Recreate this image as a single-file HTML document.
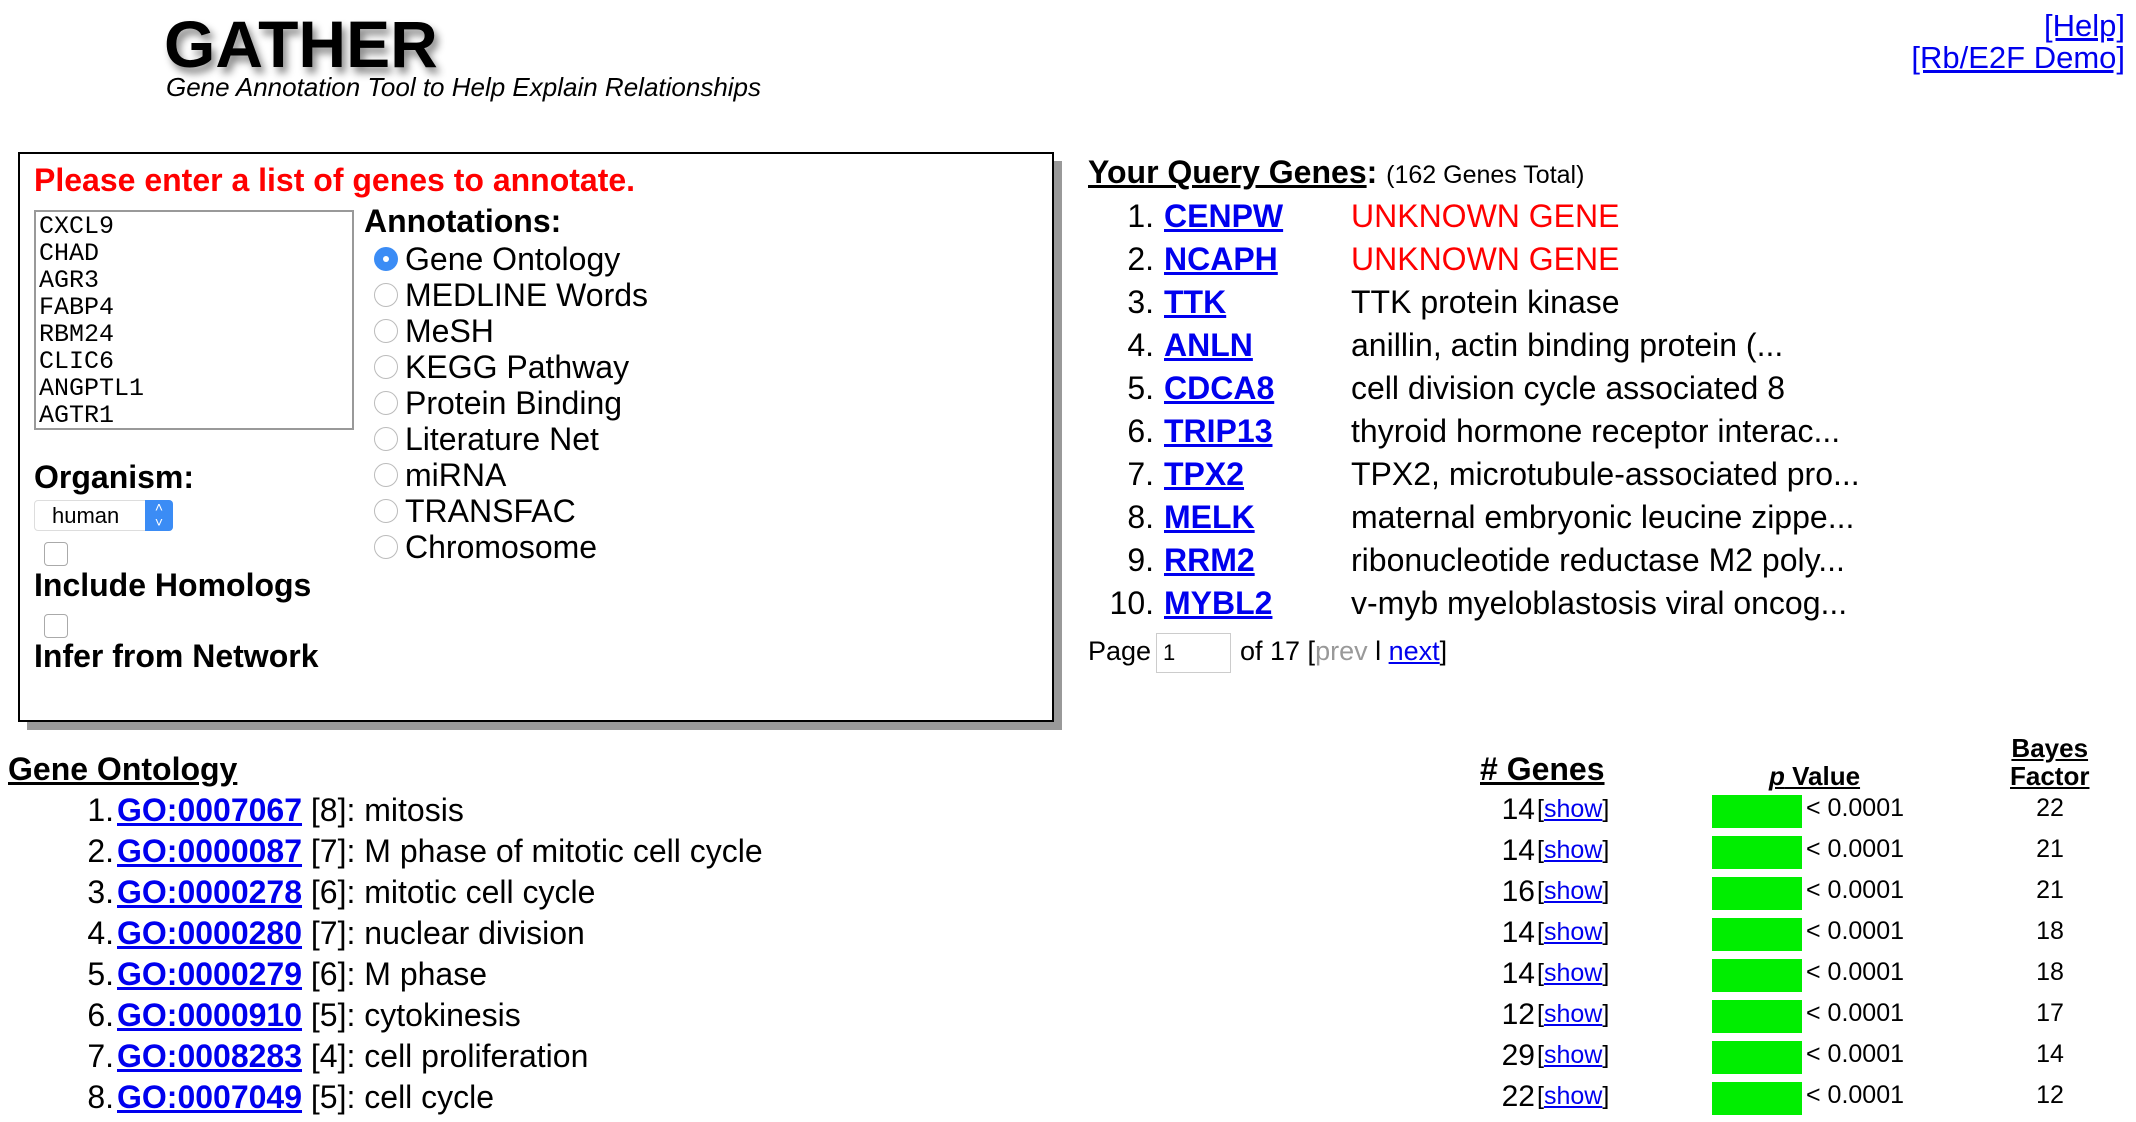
<!DOCTYPE html>
<html><head><meta charset="utf-8"><style>
body{margin:0;width:2136px;height:1122px;background:#fff;font-family:"Liberation Sans",Arial,sans-serif;position:relative;overflow:hidden;color:#000}
.a{position:absolute;white-space:nowrap}
a{color:#0000ee}
.radio{position:absolute;width:24px;height:24px;border-radius:50%;border:1px solid #bbb;background:#fff;box-sizing:border-box}
</style></head><body>
<div class="a" style="left:164px;top:6px;font-size:66px;font-weight:bold;text-shadow:4px 6px 8px #888">GATHER</div>
<div class="a" style="left:166px;top:72px;font-size:26px;font-style:italic">Gene Annotation Tool to Help Explain Relationships</div>
<a class="a" href="#" style="right:11px;top:8px;font-size:31px">[Help]</a>
<a class="a" href="#" style="right:11px;top:40px;font-size:31px">[Rb/E2F Demo]</a>

<div class="a" style="left:27px;top:161px;width:1035px;height:569px;background:#999"></div>
<div class="a" style="left:18px;top:152px;width:1036px;height:570px;border:2px solid #000;background:#fff;box-sizing:border-box"></div>
<div class="a" style="left:34px;top:162px;font-size:32px;font-weight:bold;color:#f00">Please enter a list of genes to annotate.</div>
<div class="a" style="left:34px;top:210px;width:320px;height:220px;border:2px solid #999;box-sizing:border-box;font-family:'Liberation Mono',monospace;font-size:25px;line-height:27px;padding:1px 3px">CXCL9<br>CHAD<br>AGR3<br>FABP4<br>RBM24<br>CLIC6<br>ANGPTL1<br>AGTR1</div>
<div class="a" style="left:364px;top:203px;font-size:32px;font-weight:bold">Annotations:</div>
<div id="radios"></div>
<div class="a" style="left:34px;top:459px;font-size:32px;font-weight:bold">Organism:</div>
<div class="a" style="left:34px;top:500px;width:139px;height:31px;border:1px solid #ddd;border-radius:4px;box-sizing:border-box;font-size:22px;line-height:29px;padding-left:17px">human<span style="position:absolute;right:-1px;top:-1px;width:28px;height:31px;background:#3b8cf5;border-radius:0 4px 4px 0;color:#fff;font-size:14px;text-align:center;line-height:15px">˄<br>˅</span></div>
<div class="a" style="left:44px;top:542px;width:22px;height:22px;border:1px solid #aaa;border-radius:4px"></div>
<div class="a" style="left:34px;top:567px;font-size:32px;font-weight:bold">Include Homologs</div>
<div class="a" style="left:44px;top:614px;width:22px;height:22px;border:1px solid #aaa;border-radius:4px"></div>
<div class="a" style="left:34px;top:638px;font-size:32px;font-weight:bold">Infer from Network</div>

<div class="a" style="left:1088px;top:154px;font-size:32px"><b><u>Your Query Genes</u>:</b> <span style="font-size:25px">(162 Genes Total)</span></div>
<div id="genes"></div>
<div class="a" style="left:1088px;top:636px;font-size:27px">Page</div>
<div class="a" style="left:1156px;top:633px;width:75px;height:40px;border:1px solid #ccc;box-sizing:border-box;font-size:22px;line-height:38px;padding-left:6px">1</div>
<div class="a" style="left:1240px;top:636px;font-size:27px">of 17 [<span style="color:#999">prev</span> l <a href="#">next</a>]</div>

<div class="a" style="left:8px;top:751px;font-size:32px;font-weight:bold;text-decoration:underline">Gene Ontology</div>
<div class="a" style="left:1480px;top:751px;font-size:32px;font-weight:bold;text-decoration:underline"># Genes</div>
<div class="a" style="left:1769px;top:761px;font-size:26px;font-weight:bold;text-decoration:underline"><i>p</i> Value</div>
<div class="a" style="left:2010px;top:734px;font-size:26px;font-weight:bold;text-decoration:underline;text-align:center;line-height:28px">Bayes<br>Factor</div>
<div id="go"></div>
<script>
const radioLabels=["Gene Ontology","MEDLINE Words","MeSH","KEGG Pathway","Protein Binding","Literature Net","miRNA","TRANSFAC","Chromosome"];
const geneSymbols=["CENPW","NCAPH","TTK","ANLN","CDCA8","TRIP13","TPX2","MELK","RRM2","MYBL2"];
const geneDescs=["UNKNOWN GENE","UNKNOWN GENE","TTK protein kinase","anillin, actin binding protein (...","cell division cycle associated 8","thyroid hormone receptor interac...","TPX2, microtubule-associated pro...","maternal embryonic leucine zippe...","ribonucleotide reductase M2 poly...","v-myb myeloblastosis viral oncog..."];
const goIds=["GO:0007067","GO:0000087","GO:0000278","GO:0000280","GO:0000279","GO:0000910","GO:0008283","GO:0007049"];
const goLevels=[8,7,6,7,6,5,4,5];
const goTerms=["mitosis","M phase of mitotic cell cycle","mitotic cell cycle","nuclear division","M phase","cytokinesis","cell proliferation","cell cycle"];
const goCounts=[14,14,16,14,14,12,29,22];
const goPvals=["< 0.0001","< 0.0001","< 0.0001","< 0.0001","< 0.0001","< 0.0001","< 0.0001","< 0.0001"];
const goBayes=[22,21,21,18,18,17,14,12];

function mk(parent,html,style){const d=document.createElement('div');d.className='a';d.style.cssText=style;d.innerHTML=html;parent.appendChild(d);return d;}
const R=document.getElementById('radios');
radioLabels.forEach((t,i)=>{
  const y=259+i*36;
  const c=document.createElement('div');c.className='radio';
  c.style.left='374px';c.style.top=(y-12)+'px';
  if(i===0){c.style.background='#3b8cf5';c.style.border='none';c.innerHTML='<div style="position:absolute;left:9px;top:9px;width:6px;height:6px;border-radius:50%;background:#fff"></div>';}
  
  
  R.appendChild(c);
  const l=mk(R,t,'left:405px;top:'+(y-20)+'px;font-size:32px;line-height:40px');
  
  
});
const G=document.getElementById('genes');
geneSymbols.forEach((g,i)=>{
  const y=216+i*43;
  const n=mk(G,(i+1)+'.','left:1095px;width:59px;text-align:right;top:'+(y-20)+'px;font-size:32px;line-height:40px');
  
  
  const a=mk(G,'<a href="#">'+g+'</a>','left:1164px;top:'+(y-20)+'px;font-size:32px;line-height:40px;font-weight:bold');
  
  
  const d=mk(G,geneDescs[i],'left:1351px;top:'+(y-20)+'px;font-size:32px;line-height:40px;color:'+(geneDescs[i]==='UNKNOWN GENE'?'#f00':'#000'));
  
  
});
const O=document.getElementById('go');
goIds.forEach((id,i)=>{
  const y=810+i*41;
  const t=y-20;
  const n=mk(O,(i+1)+'.','left:55px;width:59px;text-align:right;top:'+t+'px;font-size:32px;line-height:40px');
  
  
  const a=mk(O,'<a href="#" style="font-weight:bold">'+id+'</a> ['+goLevels[i]+']: '+goTerms[i],'left:117px;top:'+t+'px;font-size:32px;line-height:40px');
  
  
  const c=mk(O,String(goCounts[i]),'left:1470px;width:65px;text-align:right;top:'+t+'px;font-size:30px;line-height:40px');
  
  
  const s=mk(O,'[<a href="#">show</a>]','left:1537px;top:'+(t+1)+'px;font-size:25px;line-height:36px');
  
  
  const b=mk(O,'','left:1712px;top:'+(y-15)+'px;width:90px;height:33px;background:#00ee00');
  
  
  const p=mk(O,goPvals[i],'left:1806px;top:'+(t-2)+'px;font-size:25px;line-height:40px');
  
  
  const f=mk(O,String(goBayes[i]),'left:2020px;width:60px;text-align:center;top:'+(t-2)+'px;font-size:25px;line-height:40px');
  
  
});
</script>
</body></html>
